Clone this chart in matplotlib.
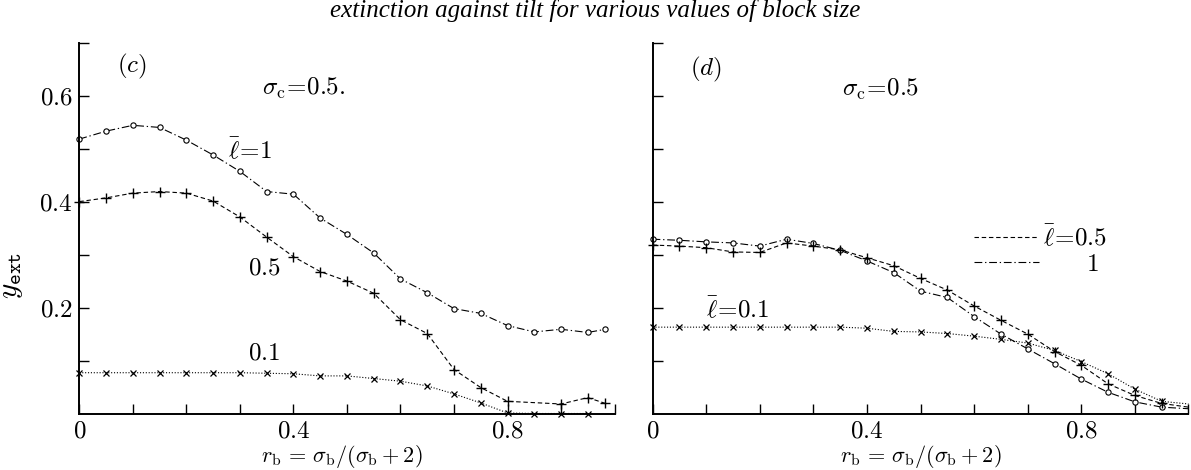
import numpy as np
import matplotlib.pyplot as plt
from matplotlib.lines import Line2D

plt.rcParams['mathtext.fontset'] = 'cm'
plt.rcParams['font.family'] = ['Liberation Serif', 'DejaVu Serif']

# panel (c): sigma_c = 0.5
c_x_l1 = [0, 0.05, 0.1, 0.15, 0.2, 0.25, 0.3, 0.35, 0.4, 0.45, 0.5,
          0.55, 0.6, 0.65, 0.7, 0.75, 0.8, 0.85, 0.9, 0.95, 0.983]
c_y_l1 = [0.518, 0.533, 0.544, 0.540, 0.516, 0.488, 0.457, 0.419, 0.414, 0.369, 0.338,
          0.303, 0.254, 0.228, 0.198, 0.189, 0.166, 0.154, 0.159, 0.153, 0.159]
c_x_l05 = [0, 0.05, 0.1, 0.15, 0.2, 0.25, 0.3, 0.35, 0.4, 0.45, 0.5,
           0.55, 0.6, 0.65, 0.7, 0.75, 0.8, 0.9, 0.95, 0.983]
c_y_l05 = [0.400, 0.407, 0.416, 0.419, 0.416, 0.401, 0.371, 0.333, 0.296, 0.268, 0.250,
           0.227, 0.177, 0.151, 0.083, 0.049, 0.023, 0.018, 0.030, 0.019]
c_x_l01 = [0, 0.05, 0.1, 0.15, 0.2, 0.25, 0.3, 0.35, 0.4, 0.45, 0.5,
           0.55, 0.6, 0.65, 0.7, 0.75, 0.8, 0.85, 0.9, 0.95]
c_y_l01 = [0.077, 0.077, 0.077, 0.077, 0.077, 0.077, 0.077, 0.076, 0.075, 0.071, 0.071,
           0.066, 0.061, 0.052, 0.037, 0.020, 0.001, 0.0, 0.0, 0.0]

# panel (d): sigma_c = 0.5 (last value at 1.0 is the curve end, no marker)
d_x = [0, 0.05, 0.1, 0.15, 0.2, 0.25, 0.3, 0.35, 0.4, 0.45, 0.5,
       0.55, 0.6, 0.65, 0.7, 0.75, 0.8, 0.85, 0.9, 0.95, 1.0]
d_y_l1 = [0.329, 0.327, 0.324, 0.322, 0.316, 0.329, 0.321, 0.308, 0.288, 0.266, 0.231,
          0.219, 0.183, 0.150, 0.122, 0.094, 0.065, 0.040, 0.022, 0.012, 0.009]
d_y_l05 = [0.318, 0.316, 0.313, 0.305, 0.304, 0.322, 0.316, 0.309, 0.294, 0.279, 0.255,
           0.233, 0.203, 0.176, 0.150, 0.117, 0.091, 0.056, 0.034, 0.019, 0.012]
d_y_l01 = [0.163, 0.163, 0.163, 0.163, 0.163, 0.163, 0.163, 0.163, 0.161, 0.155, 0.154,
           0.151, 0.146, 0.140, 0.133, 0.119, 0.098, 0.075, 0.046, 0.023, 0.018]

x_major = [0, 0.4, 0.8]
x_major_labels = [r'$0$', r'$0.4$', r'$0.8$']
y_major = [0.2, 0.4, 0.6]
y_major_labels = [r'$0.2$', r'$0.4$', r'$0.6$']

style_l1 = dict(color='black', lw=0.8, ls=(0, (7, 2.5, 1.2, 2.5)),
                marker='o', ms=3.8, mfc='white', mew=0.8)
style_l05 = dict(color='black', lw=0.8, ls=(0, (4, 2.5)),
                 marker='+', ms=7, mew=1.0)
style_l01 = dict(color='black', lw=0.8, ls=(0, (1, 1.6)),
                 marker='x', ms=4, mew=0.9)

FS = 18

fig = plt.figure(figsize=(11.91, 4.70), dpi=100)
ax_c = fig.add_axes([0.0666, 0.1202, 0.4494, 0.789])
ax_d = fig.add_axes([0.5479, 0.1202, 0.4500, 0.789])


def setup_axes(ax, show_ylabels):
    ax.set_xlim(0, 1.0)
    ax.set_ylim(0, 0.7)
    ax.spines['top'].set_visible(False)
    ax.spines['right'].set_visible(False)
    ax.spines['left'].set_linewidth(1.4)
    ax.spines['bottom'].set_linewidth(1.4)
    ax.set_xticks(x_major)
    ax.set_xticklabels(x_major_labels)
    ax.set_xticks(np.round(np.arange(0.1, 1.01, 0.1), 2), minor=True)
    ax.set_yticks(y_major)
    ax.set_yticklabels(y_major_labels if show_ylabels else [])
    ax.set_yticks(np.round(np.arange(0.1, 0.71, 0.1), 2), minor=True)
    ax.tick_params(which='both', direction='in', length=7, width=1.0,
                   labelsize=FS, pad=5)
    ax.set_xlabel(r'$r_{\rm b}\,=\,\sigma_{\rm b}/(\sigma_{\rm b}+2)$',
                  fontsize=16, va='center')


setup_axes(ax_c, True)
setup_axes(ax_d, False)
ax_c.xaxis.set_label_coords(0.49, -0.117)
ax_d.xaxis.set_label_coords(0.50, -0.117)

ax_c.set_ylabel(r'$y_{\mathtt{ext}}$', fontsize=21, va='center')
ax_c.yaxis.set_label_coords(-0.126, 0.373)

# panel (c)
ax_c.plot(c_x_l1, c_y_l1, clip_on=False, **style_l1)
ax_c.plot(c_x_l05, c_y_l05, clip_on=False, **style_l05)
ax_c.plot(c_x_l01, c_y_l01, clip_on=False, **style_l01)

ax_c.text(0.098, 0.655, r'$(c)$', fontsize=FS, ha='center', va='center')
ax_c.text(0.42, 0.614, r'$\sigma_{\rm c}\!=\!0.5.$', fontsize=FS, ha='center', va='center')
ax_c.text(0.318, 0.497, r'$\bar{\ell}\!=\!1$', fontsize=FS, ha='center', va='center')
ax_c.text(0.346, 0.274, r'$0.5$', fontsize=FS, ha='center', va='center')
ax_c.text(0.346, 0.113, r'$0.1$', fontsize=FS, ha='center', va='center')

# panel (d)
marks = slice(0, -1)
ax_d.plot(d_x, d_y_l1, clip_on=False, markevery=marks, **style_l1)
ax_d.plot(d_x, d_y_l05, clip_on=False, markevery=marks, **style_l05)
ax_d.plot(d_x, d_y_l01, clip_on=False, markevery=marks, **style_l01)

ax_d.text(0.10, 0.65, r'$(d)$', fontsize=FS, ha='center', va='center')
ax_d.text(0.426, 0.6125, r'$\sigma_{\rm c}\!=\!0.5$', fontsize=FS, ha='center', va='center')
ax_d.text(0.158, 0.197, r'$\bar{\ell}\!=\!0.1$', fontsize=FS, ha='center', va='center')

handles = [Line2D([], [], color='black', lw=0.8, ls=style_l05['ls']),
           Line2D([], [], color='black', lw=0.8, ls=style_l1['ls'])]
ax_d.legend(handles, [r'$\bar{\ell}\!=\!0.5$', r'$\qquad1$'],
            loc='upper left', bbox_to_anchor=(0.600, 0.509),
            frameon=False, fontsize=FS, handlelength=2.6, handletextpad=0.15,
            labelspacing=0.1, borderpad=0, borderaxespad=0)

fig.text(0.4996, 1 - 11 / 470, 'extinction against tilt for various values of block size',
         ha='center', va='center', style='italic', fontsize=18)

fig.savefig('out.png', dpi=100)
